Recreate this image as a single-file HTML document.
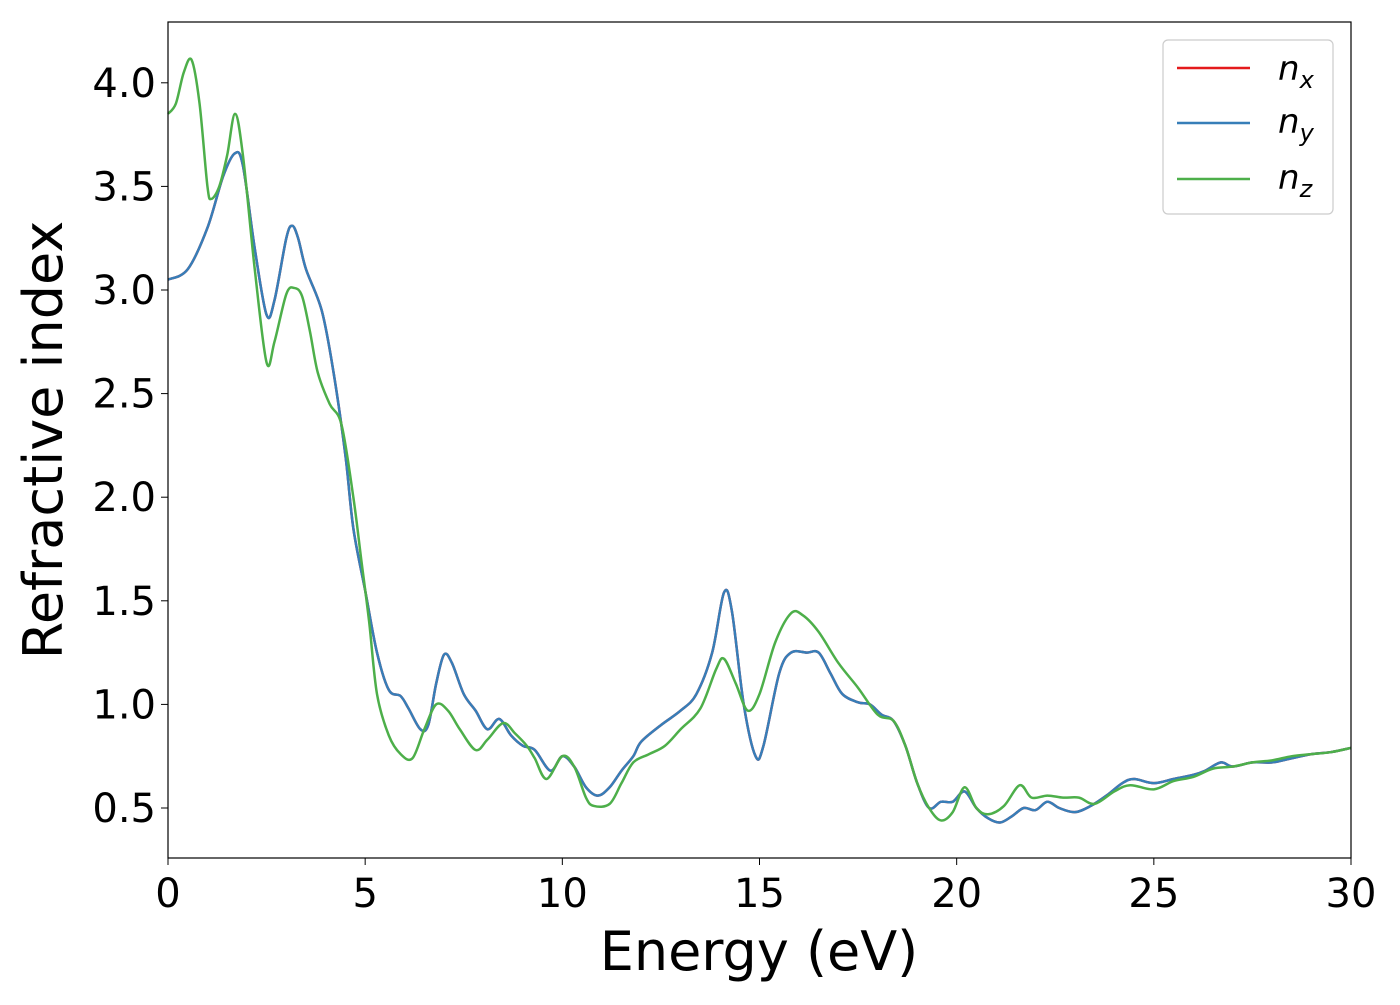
<!DOCTYPE html>
<html><head><meta charset="utf-8"><style>
body{margin:0;background:#fff;}
svg{font-family:"DejaVu Sans","Liberation Sans",sans-serif;}
</style></head><body>
<svg id="chart" width="1400" height="1000">
<rect x="0" y="0" width="1400" height="1000" fill="#fff"/>
<g id="plot"></g>
<g id="axes"></g>
<rect x="168" y="22" width="1183" height="836" fill="none" stroke="#000" stroke-width="1.2"/>
<text x="759" y="970" font-size="54" text-anchor="middle">Energy (eV)</text>
<text transform="translate(62,440) rotate(-90)" font-size="54" text-anchor="middle">Refractive index</text>
<g>
<rect x="1163" y="40" width="170" height="174" rx="5" fill="#fff" fill-opacity="0.8" stroke="#ccc" stroke-width="1.2"/>
<g><line x1="1177" y1="68" x2="1250" y2="68" stroke="#e41a1c" stroke-width="2.5"/><text x="1278" y="80" font-size="34" font-style="italic">n<tspan font-size="24" dy="8">x</tspan></text></g>
<g><line x1="1177" y1="123" x2="1250" y2="123" stroke="#377eb8" stroke-width="2.5"/><text x="1278" y="133" font-size="34" font-style="italic">n<tspan font-size="24" dy="8">y</tspan></text></g>
<g><line x1="1177" y1="179" x2="1250" y2="179" stroke="#4daf4a" stroke-width="2.5"/><text x="1278" y="189" font-size="34" font-style="italic">n<tspan font-size="24" dy="8">z</tspan></text></g>
</g>
</svg>
<script>
const xTicks=[0,5,10,15,20,25,30];
const yTicks=[0.5,1.0,1.5,2.0,2.5,3.0,3.5,4.0];
const energyXY=[0,0.5,1.0,1.4,1.7,1.9,2.2,2.5,2.7,3.0,3.15,3.3,3.5,3.9,4.2,4.5,4.7,5.0,5.3,5.6,5.9,6.1,6.4,6.6,6.8,7.0,7.2,7.5,7.8,8.1,8.4,8.7,9.0,9.3,9.7,10.0,10.3,10.6,10.9,11.2,11.5,11.8,12.0,12.5,13.0,13.4,13.8,14.1,14.3,14.6,14.9,15.1,15.5,15.8,16.2,16.5,16.8,17.1,17.5,17.8,18.1,18.4,18.7,19.0,19.3,19.6,19.9,20.2,20.5,20.8,21.1,21.4,21.7,22.0,22.3,22.6,23.0,23.4,23.8,24.2,24.5,25.0,25.5,26.0,26.3,26.7,27.0,27.5,28.0,28.5,29.0,29.5,30];
const nx=[3.05,3.1,3.3,3.55,3.66,3.6,3.2,2.88,2.95,3.25,3.31,3.25,3.1,2.9,2.6,2.2,1.85,1.55,1.25,1.07,1.04,0.98,0.88,0.9,1.1,1.24,1.2,1.05,0.97,0.88,0.93,0.85,0.8,0.78,0.68,0.75,0.7,0.6,0.56,0.6,0.68,0.75,0.82,0.9,0.97,1.05,1.25,1.54,1.45,1.0,0.75,0.8,1.15,1.25,1.25,1.25,1.15,1.05,1.01,1.0,0.95,0.92,0.8,0.62,0.5,0.53,0.53,0.58,0.5,0.45,0.43,0.46,0.5,0.49,0.53,0.5,0.48,0.51,0.56,0.62,0.64,0.62,0.64,0.66,0.68,0.72,0.7,0.72,0.72,0.74,0.76,0.77,0.79];
const ny=nx.slice();
const energyZ=[0,0.2,0.4,0.6,0.8,1.0,1.1,1.3,1.5,1.7,1.9,2.2,2.5,2.7,3.0,3.2,3.4,3.6,3.8,4.1,4.4,4.7,4.9,5.1,5.3,5.6,5.9,6.2,6.5,6.8,7.1,7.4,7.8,8.1,8.5,8.8,9.1,9.3,9.6,10.0,10.3,10.6,10.8,11.2,11.5,11.8,12.2,12.6,13.0,13.5,13.9,14.1,14.4,14.7,15.0,15.4,15.8,16.1,16.5,17.0,17.5,18.0,18.4,18.7,19.0,19.3,19.6,19.9,20.2,20.5,20.8,21.2,21.6,21.9,22.3,22.7,23.1,23.5,24.0,24.4,25.0,25.5,26.0,26.5,27.0,27.5,28.0,28.5,29.0,29.5,30];
const nz=[3.85,3.9,4.05,4.11,3.9,3.5,3.44,3.5,3.65,3.85,3.65,3.1,2.65,2.75,2.98,3.01,2.97,2.8,2.6,2.45,2.35,2.0,1.7,1.4,1.05,0.85,0.76,0.74,0.88,1.0,0.97,0.88,0.78,0.83,0.91,0.86,0.8,0.74,0.64,0.75,0.7,0.55,0.51,0.52,0.62,0.72,0.76,0.8,0.88,0.98,1.17,1.22,1.1,0.97,1.05,1.3,1.44,1.43,1.35,1.2,1.08,0.95,0.92,0.8,0.62,0.5,0.44,0.48,0.6,0.5,0.47,0.51,0.61,0.55,0.56,0.55,0.55,0.52,0.58,0.61,0.59,0.63,0.65,0.69,0.7,0.72,0.73,0.75,0.76,0.77,0.79];

const X0=168,X1=1351,YB=808,PPU=207.2;
const xs=v=>X0+(v/30)*(X1-X0);
const ys=v=>YB-(v-0.5)*PPU;
const NS='http://www.w3.org/2000/svg';
const plot=document.getElementById('plot'),axes=document.getElementById('axes');
function smooth(xa,ya){
  const p=xa.map((x,i)=>[xs(x),ys(ya[i])]);
  let d=`M${p[0][0]},${p[0][1]}`;
  for(let i=0;i<p.length-1;i++){
    const p0=p[Math.max(0,i-1)],p1=p[i],p2=p[i+1],p3=p[Math.min(p.length-1,i+2)];
    const c1=[p1[0]+(p2[0]-p0[0])/6,p1[1]+(p2[1]-p0[1])/6];
    const c2=[p2[0]-(p3[0]-p1[0])/6,p2[1]-(p3[1]-p1[1])/6];
    d+=`C${c1[0]},${c1[1]} ${c2[0]},${c2[1]} ${p2[0]},${p2[1]}`;
  }
  return d;
}
function line(xa,ya,color,name){
  const el=document.createElementNS(NS,'path');
  el.setAttribute('d',smooth(xa,ya));
  el.setAttribute('fill','none');el.setAttribute('stroke',color);el.setAttribute('stroke-width','2.5');
  
  
  plot.appendChild(el);
}
line(energyXY,nx,'#e41a1c','series-nx');
line(energyXY,ny,'#377eb8','series-ny');
line(energyZ,nz,'#4daf4a','series-nz');
xTicks.forEach(t=>{
  const x=xs(t);
  const tk=document.createElementNS(NS,'line');
  tk.setAttribute('x1',x);tk.setAttribute('x2',x);tk.setAttribute('y1',858);tk.setAttribute('y2',865);tk.setAttribute('stroke','#000');
  
  
  axes.appendChild(tk);
  const tx=document.createElementNS(NS,'text');
  tx.setAttribute('x',x);tx.setAttribute('y',907);tx.setAttribute('font-size','40');tx.setAttribute('text-anchor','middle');
  tx.textContent=t;
  
  
  axes.appendChild(tx);
});
yTicks.forEach(t=>{
  const y=ys(t);
  const tk=document.createElementNS(NS,'line');
  tk.setAttribute('x1',161);tk.setAttribute('x2',168);tk.setAttribute('y1',y);tk.setAttribute('y2',y);tk.setAttribute('stroke','#000');
  
  
  axes.appendChild(tk);
  const tx=document.createElementNS(NS,'text');
  tx.setAttribute('x',156);tx.setAttribute('y',y+14);tx.setAttribute('font-size','40');tx.setAttribute('text-anchor','end');
  tx.textContent=t.toFixed(1);
  
  
  axes.appendChild(tx);
});
</script>
</body></html>
